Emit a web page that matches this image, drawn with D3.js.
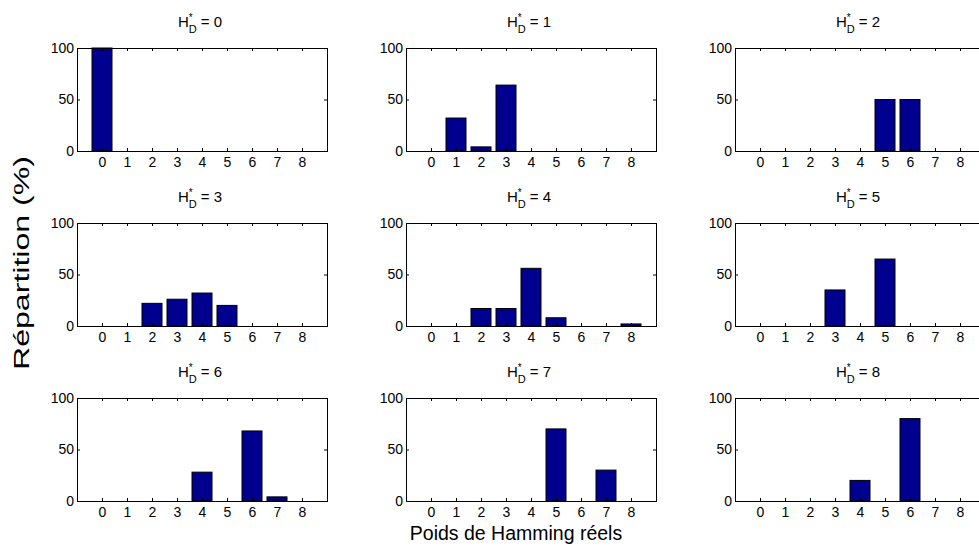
<!DOCTYPE html>
<html><head><meta charset="utf-8">
<script src="https://cdn.jsdelivr.net/npm/d3@7"></script>
<style>
body{margin:0;background:#fff}
svg{display:block}
text{font-family:"Liberation Sans",Arial,Helvetica,sans-serif;fill:#000}
</style>
</head><body>
<svg id="c" width="979" height="550"></svg>
<script>
// ---- data ----
const poids = [0, 1, 2, 3, 4, 5, 6, 7, 8];          // x categories (Poids de Hamming réels)
const hdStar = [0, 1, 2, 3, 4, 5, 6, 7, 8];         // panel values of H*_D
const rep0 = [100, 0, 0, 0, 0, 0, 0, 0, 0];
const rep1 = [0, 32, 4, 64, 0, 0, 0, 0, 0];
const rep2 = [0, 0, 0, 0, 0, 50, 50, 0, 0];
const rep3 = [0, 0, 22, 26, 32, 20, 0, 0, 0];
const rep4 = [0, 0, 17, 17, 56, 8, 0, 0, 2];
const rep5 = [0, 0, 0, 35, 0, 65, 0, 0, 0];
const rep6 = [0, 0, 0, 0, 28, 0, 68, 4, 0];
const rep7 = [0, 0, 0, 0, 0, 70, 0, 30, 0];
const rep8 = [0, 0, 0, 0, 20, 0, 80, 0, 0];
const yTicks = [0, 50, 100];
const yLabelText = "Répartition (%)";
const xLabelText = "Poids de Hamming réels";

const panels = [rep0, rep1, rep2, rep3, rep4, rep5, rep6, rep7, rep8];

// ---- layout ----
const svg = d3.select("#c");
const colLeft = [77, 406, 735], rowTop = [48, 223, 398];
const W = 250, H = 103;
const x = d3.scaleLinear().domain([-1, 9]).range([0, W]);
const y = d3.scaleLinear().domain([0, 100]).range([H, 0]);
const barW = x(0.8) - x(0);
const tickFont = 14;

panels.forEach((vals, i) => {
  const g = svg.append("g")
    .attr("transform", `translate(${colLeft[i % 3]},${rowTop[Math.floor(i / 3)]})`);

  // bars
  g.selectAll("rect.bar").data(vals.map((v, k) => ({k: poids[k], v})))
    .join("rect").attr("class", "bar")
    .attr("x", d => x(d.k) - barW / 2)
    .attr("width", barW)
    .attr("y", d => y(d.v))
    .attr("height", d => y(0) - y(d.v))
    .attr("fill", "#00008f")
    .attr("stroke", "#000")
    .attr("stroke-width", 1);

  // axes (ticks inward, mirrored)
  const styleAxis = sel => {
    sel.select(".domain").remove();
    sel.selectAll("line").attr("stroke", "#000");
    sel.selectAll("text").attr("font-size", tickFont).attr("font-family", '"Liberation Sans",Arial,sans-serif');
  };
  g.append("g").attr("transform", `translate(0,${H})`)
    .call(d3.axisBottom(x).tickValues(poids).tickSize(-3).tickPadding(6).tickFormat(d3.format("d")))
    .call(styleAxis);
  g.append("g")
    .call(d3.axisTop(x).tickValues(poids).tickSize(-3).tickFormat(""))
    .call(styleAxis);
  g.append("g")
    .call(d3.axisLeft(y).tickValues(yTicks).tickSize(-3).tickPadding(3).tickFormat(d3.format("d")))
    .call(styleAxis);
  g.append("g").attr("transform", `translate(${W},0)`)
    .call(d3.axisRight(y).tickValues(yTicks).tickSize(-3).tickFormat(""))
    .call(styleAxis);

  // box
  g.append("rect").attr("x", 0.5).attr("y", 0.5).attr("width", W).attr("height", H)
    .attr("fill", "none").attr("stroke", "#000").attr("stroke-width", 1);

  // title  H*_D = n
  const t = g.append("text").attr("x", W / 2 - 2).attr("y", -21)
    .attr("text-anchor", "middle").attr("font-size", 15);
  t.append("tspan").text("H");
  t.append("tspan").attr("font-size", 10).attr("dy", -6).text("*");
  t.append("tspan").attr("font-size", 11).attr("dx", -3.9).attr("dy", 12).text("D");
  t.append("tspan").attr("dy", -6).text(" = " + hdStar[i]);
});

// global labels
svg.append("text")
  .attr("transform", "translate(29,263) rotate(-90)")
  .attr("text-anchor", "middle").attr("font-size", 22)
  .attr("textLength", 214).attr("lengthAdjust", "spacingAndGlyphs")
  .text(yLabelText);
svg.append("text")
  .attr("x", 516).attr("y", 540)
  .attr("text-anchor", "middle").attr("font-size", 19.5)
  .text(xLabelText);
</script>
</body></html>
